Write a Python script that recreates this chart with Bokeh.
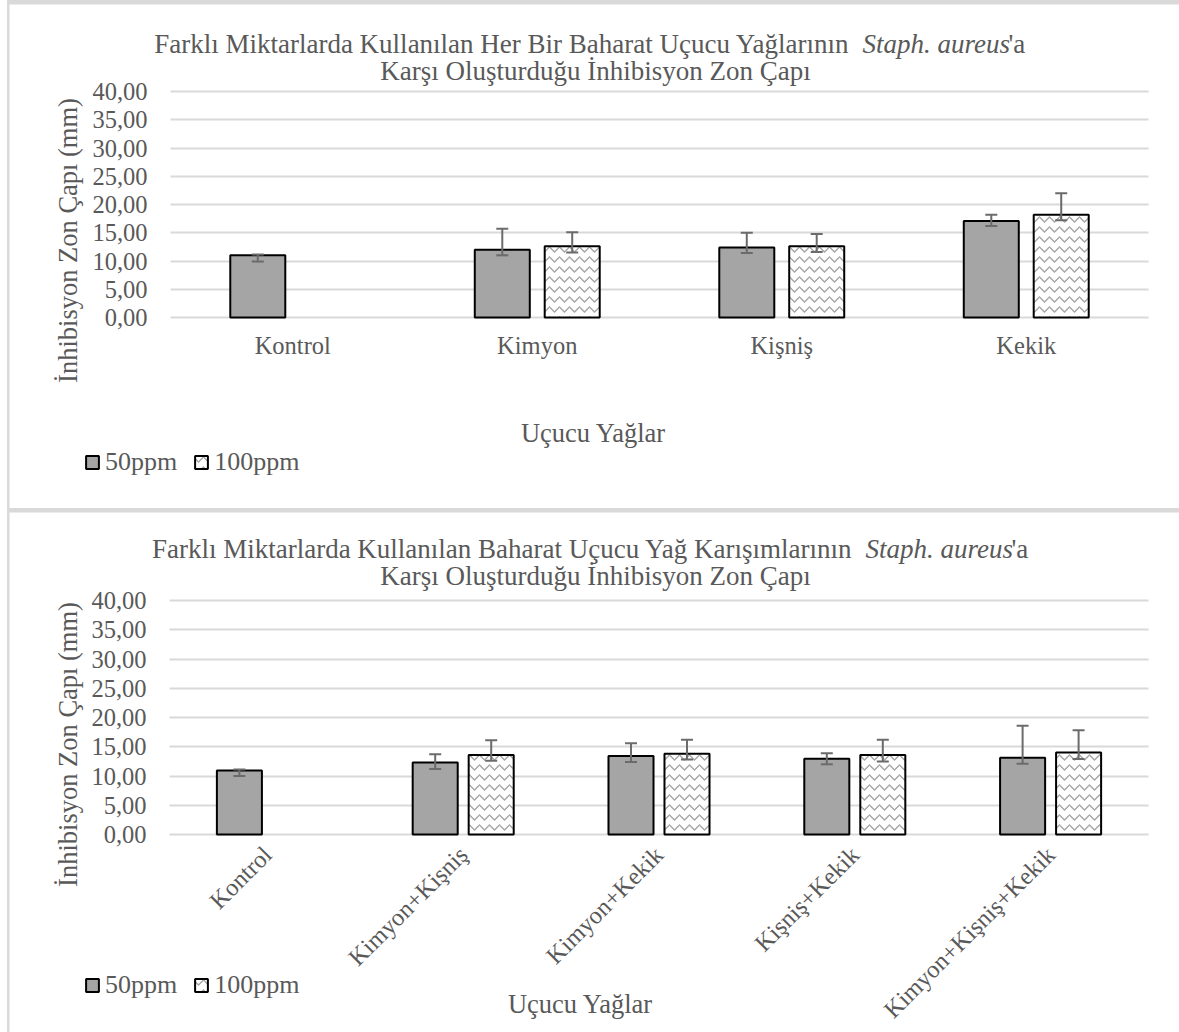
import math
from bokeh.plotting import figure
from bokeh.models import (Range1d, FixedTicker, CustomJSTickFormatter, Whisker,
                          TeeHead, ColumnDataSource, Legend, LegendItem, Label)
from bokeh.transform import dodge
from bokeh.layouts import column
from bokeh.embed import file_html
from bokeh.resources import INLINE

# ---------------- data ----------------
# Chart 1: single essential oils
cats_top = ["Kontrol", "Kimyon", "Kişniş", "Kekik"]
top_50_cats = ["Kontrol", "Kimyon", "Kişniş", "Kekik"]
top_50 = [11.0, 12.0, 12.4, 17.1]
top_50_upper = [11.15, 15.7, 15.0, 18.2]
top_50_lower = [9.9, 11.0, 11.4, 16.2]
top_100_cats = ["Kimyon", "Kişniş", "Kekik"]
top_100 = [12.6, 12.6, 18.2]
top_100_upper = [15.1, 14.8, 22.0]
top_100_lower = [11.5, 11.6, 17.2]

# Chart 2: mixtures
cats_bot = ["Kontrol", "Kimyon+Kişniş", "Kimyon+Kekik", "Kişniş+Kekik", "Kimyon+Kişniş+Kekik"]
bot_50_cats = ["Kontrol", "Kimyon+Kişniş", "Kimyon+Kekik", "Kişniş+Kekik", "Kimyon+Kişniş+Kekik"]
bot_50 = [10.95, 12.3, 13.4, 12.95, 13.1]
bot_50_upper = [11.1, 13.7, 15.6, 13.9, 18.6]
bot_50_lower = [10.0, 11.2, 12.4, 12.0, 12.1]
bot_100_cats = ["Kimyon+Kişniş", "Kimyon+Kekik", "Kişniş+Kekik", "Kimyon+Kişniş+Kekik"]
bot_100 = [13.6, 13.8, 13.6, 14.0]
bot_100_upper = [16.1, 16.2, 16.2, 17.8]
bot_100_lower = [12.6, 12.8, 12.5, 12.9]

series_names = ["50ppm", "100ppm"]
y_ticks = [0, 5, 10, 15, 20, 25, 30, 35, 40]
y_max = 40
y_title = "İnhibisyon Zon Çapı (mm)"
x_title = "Uçucu Yağlar"
title1_top = "Farklı Miktarlarda Kullanılan Her Bir Baharat Uçucu Yağlarının"
title1_bot = "Farklı Miktarlarda Kullanılan Baharat Uçucu Yağ Karışımlarının"
title_italic = "Staph. aureus"
title_tail = "'a"
title2 = "Karşı Oluşturduğu İnhibisyon Zon Çapı"

FONT = "Liberation Serif"
TXT = "#595959"
GRID = "#d9d9d9"
BAR = "#a5a5a5"
ERR = "#6b6b6b"
W = 1170      # figure width (page has a 7px margin + 2px border on the left)
DX = 9        # page x offset of the figures


def make_chart(cats, c50, v50, u50, l50, c100, v100, u100, l100, title1,
               H, f_top, f_bot, f_left, f_right, rotate, bar_w, off,
               title_y1, title_y2, split_x, tail_x, t2_x,
               ytitle_pos, xtitle_pos, legend_pos, label_standoff):
    # pixel arguments are page x positions / panel y positions; convert x to figure coords
    f_left -= DX
    f_right -= DX
    n = len(cats)
    ppu = (f_bot - f_top) / y_max
    cw = (f_right - f_left) / n
    p = figure(width=W, height=H,
               x_range=Range1d(-f_left / cw, n + (W - f_right) / cw),
               y_range=Range1d(-(H - f_bot) / ppu, y_max + f_top / ppu),
               output_backend="svg", toolbar_location=None,
               min_border=0, min_border_left=0, min_border_right=0,
               min_border_top=0, min_border_bottom=0,
               background_fill_color="white", border_fill_color="white",
               outline_line_color=None)
    p.title.visible = False

    s50 = ColumnDataSource(dict(x=[cats.index(c) + 0.5 for c in c50], top=v50, up=u50, lo=l50))
    s100 = ColumnDataSource(dict(x=[cats.index(c) + 0.5 for c in c100], top=v100, up=u100, lo=l100))

    # grid lines limited to the category span
    yt = FixedTicker(ticks=y_ticks)
    p.xgrid.visible = False
    g = p.ygrid[0]
    g.ticker = yt
    g.grid_line_color = GRID
    g.grid_line_width = 2
    if "cross_bounds" in g.properties():
        g.cross_bounds = (0, n)
    else:
        g.visible = False
        p.segment(x0=0, x1=n, y0=y_ticks, y1=y_ticks, line_color=GRID, line_width=2)

    r50 = p.vbar(x=dodge("x", -off), top="top", bottom=0, width=bar_w,
                 source=s50, fill_color=BAR, line_color="black", line_width=2)
    r100 = p.vbar(x=dodge("x", off), top="top", bottom=0, width=bar_w,
                  source=s100, fill_color="white", hatch_pattern="horizontal_wave",
                  hatch_color="#a6a6a6", hatch_scale=10, hatch_weight=1.4,
                  line_color="black", line_width=2)

    for src, o in ((s50, -off), (s100, off)):
        w = Whisker(base=dodge("x", o), upper="up", lower="lo", source=src,
                    dimension="height", line_color=ERR, line_width=2, level="overlay",
                    upper_head=TeeHead(size=12, line_color=ERR, line_width=2),
                    lower_head=TeeHead(size=12, line_color=ERR, line_width=2))
        p.add_layout(w)

    ya = p.yaxis[0]
    xa = p.xaxis[0]
    ya.ticker = yt
    ya.formatter = CustomJSTickFormatter(code="return tick.toFixed(2).replace('.', ',');")
    ya.fixed_location = 0
    xa.ticker = FixedTicker(ticks=[i + 0.5 for i in range(n)])
    xa.formatter = CustomJSTickFormatter(args=dict(cats=cats),
                                         code="return cats[Math.floor(tick)];")
    xa.fixed_location = 0
    for ax in (xa, ya):
        ax.axis_line_color = None
        ax.major_tick_line_color = None
        ax.minor_tick_line_color = None
        ax.major_label_text_font = FONT
        ax.major_label_text_font_size = "24.5px"
        ax.major_label_text_color = TXT
    ya.major_label_standoff = 17
    xa.major_label_standoff = label_standoff
    if rotate:
        xa.major_label_orientation = math.pi / 4

    def lab(text, x, y, align="center", size="26.5px", style="normal", angle=0.0):
        p.add_layout(Label(x=x - DX, y=H - y, x_units="screen", y_units="screen", text=text,
                           text_font=FONT, text_font_size=size, text_color=TXT,
                           text_align=align, text_baseline="middle",
                           text_font_style=style, angle=angle))

    lab(title1, split_x, title_y1, align="right", size="27px")
    lab(title_italic, split_x + 13, title_y1, align="left", style="italic", size="27px")
    lab(title_tail, tail_x, title_y1, align="left", size="27px")
    lab(title2, t2_x, title_y2, size="27px")
    lab(y_title, ytitle_pos[0], ytitle_pos[1], angle=math.pi / 2)
    lab(x_title, xtitle_pos[0], xtitle_pos[1])

    legend = Legend(items=[LegendItem(label=series_names[0], renderers=[r50]),
                           LegendItem(label=series_names[1], renderers=[r100])],
                    orientation="horizontal",
                    location=(legend_pos[0] - DX, H - legend_pos[1]),
                    label_text_font=FONT, label_text_font_size="26px",
                    label_text_color=TXT, glyph_width=16, glyph_height=16,
                    label_standoff=5, spacing=16, padding=0, margin=0,
                    border_line_color=None, background_fill_alpha=0)
    p.add_layout(legend)
    return p


# x positions are page pixels, y positions are pixels from each panel's top
p1 = make_chart(cats_top, top_50_cats, top_50, top_50_upper, top_50_lower,
                top_100_cats, top_100, top_100_upper, top_100_lower, title1_top,
                H=504, f_top=87, f_bot=313, f_left=170, f_right=1148, rotate=False,
                bar_w=0.225, off=0.143,
                title_y1=39, title_y2=66, split_x=849, tail_x=1008, t2_x=595,
                ytitle_pos=(67, 236), xtitle_pos=(593, 428), legend_pos=(84, 473),
                label_standoff=8)

p2 = make_chart(cats_bot, bot_50_cats, bot_50, bot_50_upper, bot_50_lower,
                bot_100_cats, bot_100, bot_100_upper, bot_100_lower, title1_bot,
                H=520, f_top=88, f_bot=322, f_left=169, f_right=1148, rotate=True,
                bar_w=0.23, off=0.143,
                title_y1=36, title_y2=63, split_x=852, tail_x=1011, t2_x=595,
                ytitle_pos=(67, 232), xtitle_pos=(580, 491), legend_pos=(84, 488),
                label_standoff=10)

layout = column(p1, p2, spacing=4,
                styles={"background-color": "#d9d9d9", "padding-top": "4px",
                        "margin-left": "7px", "border-left": "2px solid #d9d9d9"})

open("out.html", "w").write(file_html(layout, INLINE))
